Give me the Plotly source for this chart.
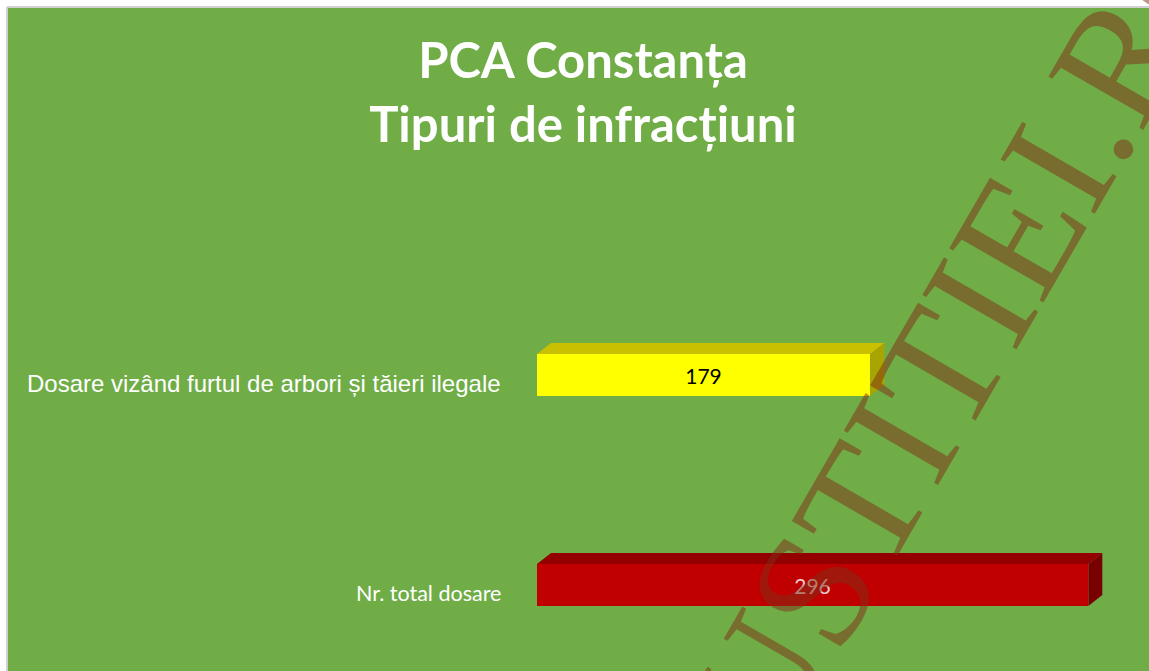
import plotly.graph_objects as go

# ---- data ----
categories = ["Dosare vizând furtul de arbori și tăieri ilegale", "Nr. total dosare"]
values = [179, 296]
positions = [1, 0]
front_colors = ["#FFFF00", "#C00000"]
top_colors = ["#C8C000", "#940000"]
side_colors = ["#A8A400", "#780000"]
label_colors = ["#000000", "#EBCCCC"]
title_lines = ["PCA Constanța", "Tipuri de infracțiuni"]
watermark = "JUSTITIEI.RO"

# ---- layout geometry ----
W, H = 1149, 671
L, T = 537, 249
plot_w, plot_h = 596, 420
R = W - L - plot_w
B = H - T - plot_h
x_range = [0, 320]
y_range = [-0.4, 1.6]
ppx = plot_w / (x_range[1] - x_range[0])
ppy = plot_h / (y_range[1] - y_range[0])
bar_w = 42 / ppy
ddx = 14 / ppx      # 3D depth offset (in data units)
ddy = 11 / ppy

fig = go.Figure()

# 3D faces (top and right side) computed from values
for v, p, tc, sc in zip(values, positions, top_colors, side_colors):
    yt = p + bar_w / 2
    yb = p - bar_w / 2
    fig.add_trace(go.Scatter(
        x=[0, v, v + ddx, ddx, 0], y=[yt, yt, yt + ddy, yt + ddy, yt],
        fill="toself", fillcolor=tc, mode="lines",
        line=dict(width=0, color=tc), hoverinfo="skip", showlegend=False))
    fig.add_trace(go.Scatter(
        x=[v, v + ddx, v + ddx, v, v], y=[yt, yt + ddy, yb + ddy, yb, yt],
        fill="toself", fillcolor=sc, mode="lines",
        line=dict(width=0, color=sc), hoverinfo="skip", showlegend=False))

fig.add_trace(go.Bar(
    x=values, y=positions, orientation="h", width=bar_w,
    marker=dict(color=front_colors, line=dict(width=0)),
    text=[str(v) for v in values], textposition="inside",
    insidetextanchor="middle", textangle=0,
    textfont=dict(family="Lato", size=21, color=label_colors),
    hoverinfo="skip", showlegend=False))

# category labels
label_fonts = [dict(family="Liberation Sans", size=24, color="white"),
               dict(family="Lato", size=21.5, color="white")]
for c, p, f in zip(categories, positions, label_fonts):
    fig.add_annotation(x=0, y=p, xref="x", yref="y", text=c, showarrow=False,
                       xanchor="right", yanchor="middle", xshift=-34, yshift=-8,
                       font=f)

def px_x(x):
    return (x - L) / plot_w

def px_y(y):
    return 1 - (y - T) / plot_h

# watermark
fig.add_annotation(x=px_x(952), y=px_y(349),
                   xref="paper", yref="paper", text=watermark, showarrow=False,
                   textangle=-60, xanchor="center", yanchor="middle",
                   font=dict(family="Liberation Serif", size=166,
                             color="rgba(128,45,22,0.5)"))

# white page strips with grey edge (top and left)
fig.add_shape(type="rect", xref="paper", yref="paper",
              x0=px_x(0), x1=px_x(W), y0=px_y(0), y1=px_y(7),
              fillcolor="white", line=dict(width=0), layer="below")
fig.add_shape(type="rect", xref="paper", yref="paper",
              x0=px_x(0), x1=px_x(7), y0=px_y(0), y1=px_y(H),
              fillcolor="white", line=dict(width=0), layer="below")
fig.add_shape(type="line", xref="paper", yref="paper",
              x0=px_x(7), x1=px_x(W), y0=px_y(7), y1=px_y(7),
              line=dict(width=2, color="#D0D0D0"), layer="below")
fig.add_shape(type="line", xref="paper", yref="paper",
              x0=px_x(7), x1=px_x(7), y0=px_y(7), y1=px_y(H),
              line=dict(width=2, color="#D0D0D0"), layer="below")

fig.update_layout(
    width=W, height=H,
    margin=dict(l=L, r=R, t=T, b=B),
    paper_bgcolor="#70AD47", plot_bgcolor="rgba(0,0,0,0)",
    title=dict(text="<br>".join(title_lines), xref="container", yref="container",
               x=583 / W, xanchor="center", y=1 - 78 / H, yanchor="top",
               font=dict(family="Lato", size=49, color="white", weight="bold")),
    xaxis=dict(range=x_range, visible=False, fixedrange=True),
    yaxis=dict(range=y_range, visible=False, fixedrange=True),
    bargap=0, showlegend=False, hovermode=False,
)

fig.write_html("out.html", config={"displayModeBar": False},
               post_script="document.body.style.margin='0';document.body.style.overflow='hidden';")
